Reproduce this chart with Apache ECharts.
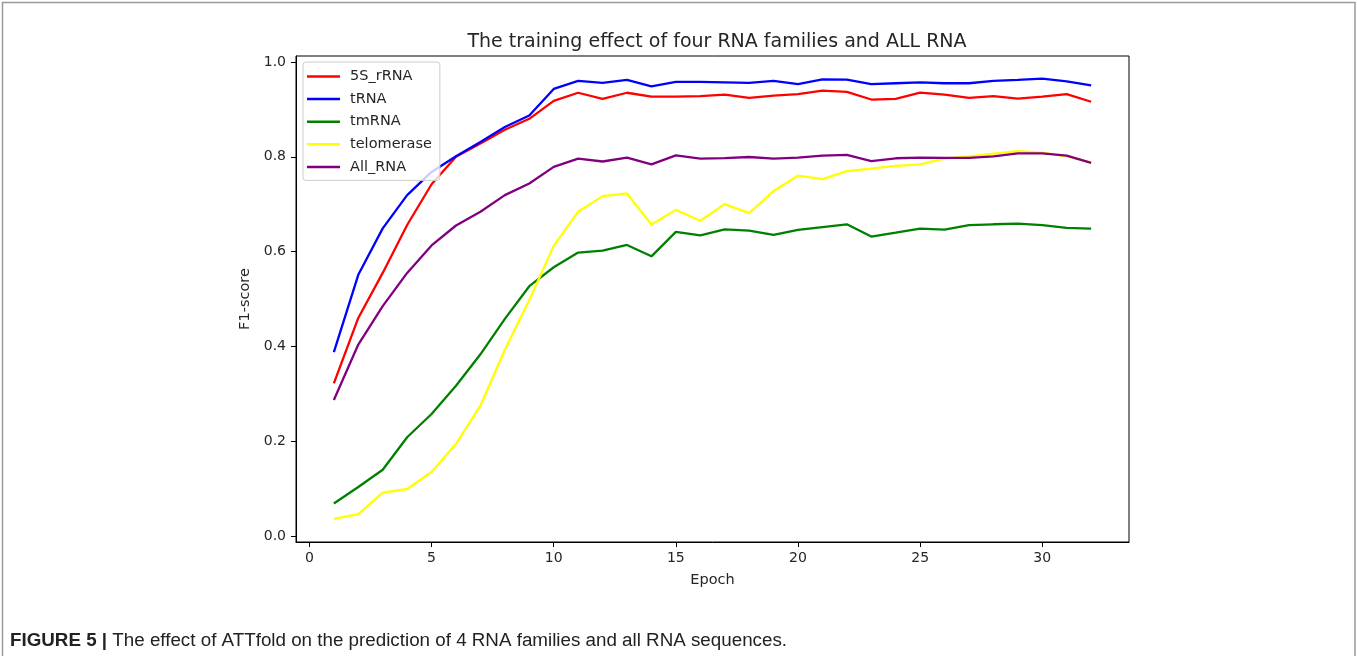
<!DOCTYPE html>
<html>
<head>
<meta charset="utf-8">
<script src="https://cdn.jsdelivr.net/npm/echarts@6/dist/echarts.min.js"></script>
<style>
html,body{margin:0;padding:0;background:#fff;}
#chart{width:1357px;height:656px;}
</style>
</head>
<body>
<div id="chart"></div>
<script>
const epochs = [1,2,3,4,5,6,7,8,9,10,11,12,13,14,15,16,17,18,19,20,21,22,23,24,25,26,27,28,29,30,31,32];
const rRNA5S = [0.322,0.46,0.555,0.656,0.742,0.80,0.828,0.857,0.88,0.918,0.935,0.922,0.935,0.927,0.927,0.928,0.931,0.924,0.929,0.932,0.9395,0.9367,0.9207,0.922,0.9353,0.931,0.924,0.928,0.9225,0.927,0.932,0.916];
const tRNA = [0.388,0.551,0.649,0.719,0.768,0.801,0.831,0.8626,0.887,0.943,0.96,0.956,0.962,0.9486,0.958,0.958,0.957,0.956,0.96,0.953,0.963,0.9626,0.953,0.955,0.957,0.955,0.955,0.96,0.962,0.9647,0.959,0.9507];
const tmRNA = [0.0686,0.1035,0.140,0.2085,0.2575,0.317,0.3834,0.458,0.527,0.567,0.598,0.602,0.614,0.59,0.6415,0.634,0.647,0.644,0.635,0.6457,0.6517,0.6576,0.6317,0.640,0.6485,0.6464,0.656,0.6576,0.659,0.656,0.65,0.6485];
const telomerase = [0.0364,0.0462,0.0916,0.0993,0.135,0.1945,0.275,0.393,0.498,0.612,0.684,0.717,0.7226,0.657,0.688,0.665,0.70,0.681,0.7276,0.76,0.753,0.7695,0.775,0.7807,0.784,0.796,0.801,0.8066,0.812,0.8087,0.801,0.7884];
const allRNA = [0.287,0.404,0.485,0.555,0.613,0.655,0.684,0.719,0.7436,0.7786,0.796,0.79,0.798,0.784,0.803,0.796,0.797,0.7995,0.796,0.798,0.8025,0.8038,0.791,0.7968,0.7982,0.7975,0.7975,0.801,0.807,0.807,0.8025,0.787];
const seriesNames = ['5S_rRNA','tRNA','tmRNA','telomerase','All_RNA'];
const seriesColors = ['#ff0000','#0000ff','#008000','#ffff00','#800080'];
const xTicks = [0,5,10,15,20,25,30];
const yTicks = [0,0.2,0.4,0.6,0.8,1.0];
const titleText = 'The training effect of four RNA families and ALL RNA';
const xName = 'Epoch';
const yName = 'F1-score';
const captionBold = 'FIGURE 5 |';
const captionText = ' The effect of ATTfold on the prediction of 4 RNA families and all RNA sequences.';

const seriesValues = [rRNA5S, tRNA, tmRNA, telomerase, allRNA];
const FONT = 'DejaVu Sans';
const TXT = '#262626';

const chart = echarts.init(document.getElementById('chart'), null, {renderer:'canvas'});
chart.setOption({
  backgroundColor:'#ffffff',
  animation:false,
  title:{
    text:titleText, left:712, top:28, textAlign:'center',
    textStyle:{fontFamily:FONT, fontSize:19, fontWeight:'normal', color:TXT}
  },
  grid:{left:296, right:228, top:56, bottom:114, show:true, borderColor:'#000', borderWidth:1, backgroundColor:'transparent'},
  legend:{
    orient:'vertical', left:303, top:62,
    data:seriesNames,
    icon:'rect', itemWidth:33, itemHeight:2.5, itemGap:5.6,
    padding:[6,8,5,4],
    backgroundColor:'rgba(255,255,255,0.8)', borderColor:'#cccccc', borderWidth:1, borderRadius:3,
    textStyle:{fontFamily:FONT, fontSize:14.5, color:TXT, lineHeight:17, padding:[0,0,0,5]}
  },
  xAxis:{
    type:'value', min:-0.55, max:33.55,
    name:xName, nameLocation:'middle', nameGap:31,
    nameTextStyle:{fontFamily:FONT, fontSize:14.5, color:TXT},
    axisLine:{show:true, onZero:false, lineStyle:{color:'#000', width:1}},
    axisTick:{show:true, length:5, lineStyle:{color:'#000'}, customValues:xTicks},
    axisLabel:{fontFamily:FONT, fontSize:14, color:TXT, margin:9, customValues:xTicks},
    splitLine:{show:false}
  },
  yAxis:{
    type:'value', min:-0.0125, max:1.0125,
    name:yName, nameLocation:'middle', nameGap:42, nameRotate:90,
    nameTextStyle:{fontFamily:FONT, fontSize:14.5, color:TXT},
    axisLine:{show:true, onZero:false, lineStyle:{color:'#000', width:1}},
    axisTick:{show:true, length:5, lineStyle:{color:'#000'}, customValues:yTicks},
    axisLabel:{fontFamily:FONT, fontSize:14, color:TXT, margin:10, customValues:yTicks, formatter:v=>v.toFixed(1)},
    splitLine:{show:false}
  },
  series:seriesNames.map((n,i)=>({
    name:n, type:'line', showSymbol:false, symbol:'none',
    data:epochs.map((e,j)=>[e, seriesValues[i][j]]),
    lineStyle:{color:seriesColors[i], width:2.3},
    itemStyle:{color:seriesColors[i]}
  })),
  graphic:[
    {type:'polyline', shape:{points:[[2.5,656],[2.5,2.5],[1355,2.5],[1355,656]]}, style:{stroke:'#9a9a9a', lineWidth:1.5, fill:null}, silent:true},
    {type:'text', left:10, top:631, style:{
      text:'{b|'+captionBold+'}{r|'+captionText+'}',
      rich:{
        b:{fontFamily:'Liberation Sans', fontWeight:'bold', fontSize:18.8, fill:'#222'},
        r:{fontFamily:'Liberation Sans', fontSize:18.8, fill:'#222'}
      }
    }}
  ]
});
</script>
</body>
</html>
